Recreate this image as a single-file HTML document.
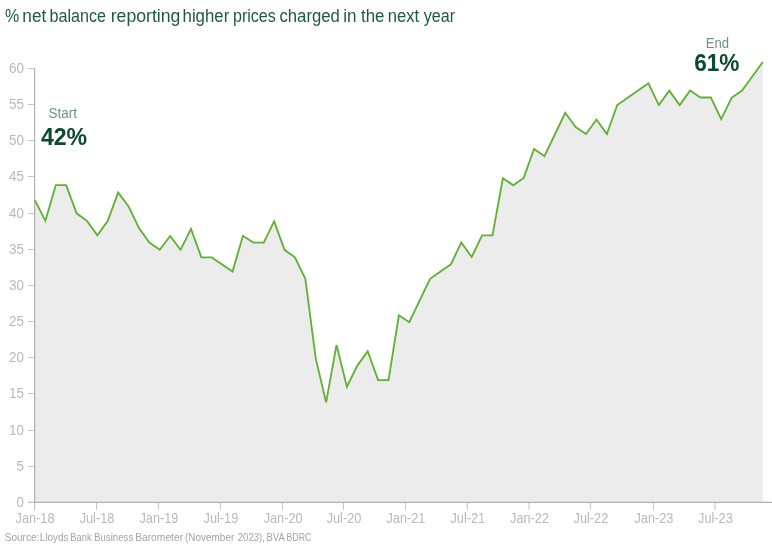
<!DOCTYPE html>
<html><head><meta charset="utf-8"><style>
html,body{margin:0;padding:0;background:#fff;}
body{width:772px;height:552px;overflow:hidden;}
svg{display:block;will-change:transform;}
text{font-family:"Liberation Sans",sans-serif;}
.ax{font-size:14px;fill:#b9b9b9;}
</style></head><body>
<svg width="772" height="552" viewBox="0 0 772 552">
<g font-size="17.5" fill="#1f5a3d"><text x="4.99" y="22" textLength="14.23" lengthAdjust="spacingAndGlyphs">%</text><text x="22.32" y="22" textLength="23.91" lengthAdjust="spacingAndGlyphs">net</text><text x="49.58" y="22" textLength="56.51" lengthAdjust="spacingAndGlyphs">balance</text><text x="110.69" y="22" textLength="69.70" lengthAdjust="spacingAndGlyphs">reporting</text><text x="182.54" y="22" textLength="46.73" lengthAdjust="spacingAndGlyphs">higher</text><text x="232.98" y="22" textLength="42.85" lengthAdjust="spacingAndGlyphs">prices</text><text x="279.44" y="22" textLength="60.45" lengthAdjust="spacingAndGlyphs">charged</text><text x="343.32" y="22" textLength="13.28" lengthAdjust="spacingAndGlyphs">in</text><text x="361.00" y="22" textLength="23.42" lengthAdjust="spacingAndGlyphs">the</text><text x="387.85" y="22" textLength="31.32" lengthAdjust="spacingAndGlyphs">next</text><text x="423.70" y="22" textLength="31.34" lengthAdjust="spacingAndGlyphs">year</text></g>
<path d="M35.00,502.5 L35.00,200.40 L45.40,220.86 L55.79,185.09 L66.19,185.09 L76.59,213.31 L86.99,220.86 L97.38,235.33 L107.78,220.86 L118.18,192.41 L128.57,206.38 L138.97,228.09 L149.37,242.57 L159.77,249.80 L170.16,236.03 L180.56,249.80 L190.96,228.79 L201.35,257.34 L211.75,257.44 L222.15,264.48 L232.55,271.52 L242.94,235.83 L253.34,242.57 L263.74,242.57 L274.13,221.36 L284.53,249.80 L294.93,257.34 L305.33,278.75 L315.72,358.36 L326.12,402.38 L336.52,344.90 L346.91,386.71 L357.31,365.60 L367.71,351.12 L378.11,380.07 L388.50,380.07 L398.90,315.32 L409.30,322.18 L419.69,300.46 L430.09,278.75 L440.49,271.52 L450.89,264.28 L461.28,242.57 L471.68,257.04 L482.08,235.33 L492.47,235.33 L502.87,178.23 L513.27,185.27 L523.67,177.93 L534.06,148.99 L544.46,156.22 L554.86,134.51 L565.25,112.80 L575.65,127.08 L586.05,134.01 L596.45,119.54 L606.84,134.01 L617.24,105.06 L627.64,97.83 L638.03,90.59 L648.43,83.35 L658.83,105.06 L669.23,90.59 L679.62,105.06 L690.02,90.59 L700.42,97.46 L710.81,97.46 L721.21,119.04 L731.61,97.83 L742.01,90.59 L752.40,76.33 L762.80,62.07 L762.80,502.5 Z" fill="#ececec"/>
<line x1="34.6" y1="68" x2="34.6" y2="510" stroke="#b1b1b1" stroke-width="1.2"/>
<line x1="28" y1="502.4" x2="772" y2="502.4" stroke="#b1b1b1" stroke-width="1.2"/>
<line x1="28" y1="502.5" x2="34" y2="502.5" stroke="#c6c6c6" stroke-width="1"/>
<text transform="translate(24,507.3) scale(0.96,1)" text-anchor="end" class="ax">0</text>
<line x1="28" y1="466.5" x2="34" y2="466.5" stroke="#c6c6c6" stroke-width="1"/>
<text transform="translate(24,471.3) scale(0.96,1)" text-anchor="end" class="ax">5</text>
<line x1="28" y1="430.5" x2="34" y2="430.5" stroke="#c6c6c6" stroke-width="1"/>
<text transform="translate(24,435.3) scale(0.96,1)" text-anchor="end" class="ax">10</text>
<line x1="28" y1="393.5" x2="34" y2="393.5" stroke="#c6c6c6" stroke-width="1"/>
<text transform="translate(24,398.3) scale(0.96,1)" text-anchor="end" class="ax">15</text>
<line x1="28" y1="357.5" x2="34" y2="357.5" stroke="#c6c6c6" stroke-width="1"/>
<text transform="translate(24,362.3) scale(0.96,1)" text-anchor="end" class="ax">20</text>
<line x1="28" y1="321.5" x2="34" y2="321.5" stroke="#c6c6c6" stroke-width="1"/>
<text transform="translate(24,326.3) scale(0.96,1)" text-anchor="end" class="ax">25</text>
<line x1="28" y1="285.5" x2="34" y2="285.5" stroke="#c6c6c6" stroke-width="1"/>
<text transform="translate(24,290.3) scale(0.96,1)" text-anchor="end" class="ax">30</text>
<line x1="28" y1="249.5" x2="34" y2="249.5" stroke="#c6c6c6" stroke-width="1"/>
<text transform="translate(24,254.3) scale(0.96,1)" text-anchor="end" class="ax">35</text>
<line x1="28" y1="213.5" x2="34" y2="213.5" stroke="#c6c6c6" stroke-width="1"/>
<text transform="translate(24,218.3) scale(0.96,1)" text-anchor="end" class="ax">40</text>
<line x1="28" y1="176.5" x2="34" y2="176.5" stroke="#c6c6c6" stroke-width="1"/>
<text transform="translate(24,181.3) scale(0.96,1)" text-anchor="end" class="ax">45</text>
<line x1="28" y1="140.5" x2="34" y2="140.5" stroke="#c6c6c6" stroke-width="1"/>
<text transform="translate(24,145.3) scale(0.96,1)" text-anchor="end" class="ax">50</text>
<line x1="28" y1="104.5" x2="34" y2="104.5" stroke="#c6c6c6" stroke-width="1"/>
<text transform="translate(24,109.3) scale(0.96,1)" text-anchor="end" class="ax">55</text>
<line x1="28" y1="68.5" x2="34" y2="68.5" stroke="#c6c6c6" stroke-width="1"/>
<text transform="translate(24,73.3) scale(0.96,1)" text-anchor="end" class="ax">60</text>

<line x1="34.5" y1="503" x2="34.5" y2="510" stroke="#c6c6c6" stroke-width="1"/>
<text transform="translate(35.0,523) scale(0.91,1)" text-anchor="middle" class="ax">Jan-18</text>
<line x1="96.5" y1="503" x2="96.5" y2="510" stroke="#c6c6c6" stroke-width="1"/>
<text transform="translate(97.0,523) scale(0.91,1)" text-anchor="middle" class="ax">Jul-18</text>
<line x1="158.4" y1="503" x2="158.4" y2="510" stroke="#c6c6c6" stroke-width="1"/>
<text transform="translate(158.9,523) scale(0.91,1)" text-anchor="middle" class="ax">Jan-19</text>
<line x1="220.4" y1="503" x2="220.4" y2="510" stroke="#c6c6c6" stroke-width="1"/>
<text transform="translate(220.9,523) scale(0.91,1)" text-anchor="middle" class="ax">Jul-19</text>
<line x1="282.6" y1="503" x2="282.6" y2="510" stroke="#c6c6c6" stroke-width="1"/>
<text transform="translate(283.1,523) scale(0.91,1)" text-anchor="middle" class="ax">Jan-20</text>
<line x1="343.5" y1="503" x2="343.5" y2="510" stroke="#c6c6c6" stroke-width="1"/>
<text transform="translate(344.0,523) scale(0.91,1)" text-anchor="middle" class="ax">Jul-20</text>
<line x1="405.4" y1="503" x2="405.4" y2="510" stroke="#c6c6c6" stroke-width="1"/>
<text transform="translate(405.9,523) scale(0.91,1)" text-anchor="middle" class="ax">Jan-21</text>
<line x1="467.3" y1="503" x2="467.3" y2="510" stroke="#c6c6c6" stroke-width="1"/>
<text transform="translate(467.8,523) scale(0.91,1)" text-anchor="middle" class="ax">Jul-21</text>
<line x1="529.0" y1="503" x2="529.0" y2="510" stroke="#c6c6c6" stroke-width="1"/>
<text transform="translate(529.5,523) scale(0.91,1)" text-anchor="middle" class="ax">Jan-22</text>
<line x1="590.4" y1="503" x2="590.4" y2="510" stroke="#c6c6c6" stroke-width="1"/>
<text transform="translate(590.9,523) scale(0.91,1)" text-anchor="middle" class="ax">Jul-22</text>
<line x1="653.4" y1="503" x2="653.4" y2="510" stroke="#c6c6c6" stroke-width="1"/>
<text transform="translate(653.9,523) scale(0.91,1)" text-anchor="middle" class="ax">Jan-23</text>
<line x1="714.9" y1="503" x2="714.9" y2="510" stroke="#c6c6c6" stroke-width="1"/>
<text transform="translate(715.4,523) scale(0.91,1)" text-anchor="middle" class="ax">Jul-23</text>

<polyline points="35.00,200.40 45.40,220.86 55.79,185.09 66.19,185.09 76.59,213.31 86.99,220.86 97.38,235.33 107.78,220.86 118.18,192.41 128.57,206.38 138.97,228.09 149.37,242.57 159.77,249.80 170.16,236.03 180.56,249.80 190.96,228.79 201.35,257.34 211.75,257.44 222.15,264.48 232.55,271.52 242.94,235.83 253.34,242.57 263.74,242.57 274.13,221.36 284.53,249.80 294.93,257.34 305.33,278.75 315.72,358.36 326.12,402.38 336.52,344.90 346.91,386.71 357.31,365.60 367.71,351.12 378.11,380.07 388.50,380.07 398.90,315.32 409.30,322.18 419.69,300.46 430.09,278.75 440.49,271.52 450.89,264.28 461.28,242.57 471.68,257.04 482.08,235.33 492.47,235.33 502.87,178.23 513.27,185.27 523.67,177.93 534.06,148.99 544.46,156.22 554.86,134.51 565.25,112.80 575.65,127.08 586.05,134.01 596.45,119.54 606.84,134.01 617.24,105.06 627.64,97.83 638.03,90.59 648.43,83.35 658.83,105.06 669.23,90.59 679.62,105.06 690.02,90.59 700.42,97.46 710.81,97.46 721.21,119.04 731.61,97.83 742.01,90.59 752.40,76.33 762.80,62.07" fill="none" stroke="#62b034" stroke-width="1.85" stroke-linejoin="miter"/>
<text x="48.54" y="118" font-size="14" fill="#71907f" textLength="28.46" lengthAdjust="spacingAndGlyphs">Start</text>
<text x="40.9" y="145" font-size="23" font-weight="bold" fill="#0b4a2d" textLength="46.25" lengthAdjust="spacingAndGlyphs">42%</text>
<text x="705.87" y="48" font-size="14" fill="#71907f" textLength="23.3" lengthAdjust="spacingAndGlyphs">End</text>
<text x="694.22" y="71.2" font-size="23" font-weight="bold" fill="#0b4a2d" textLength="45.23" lengthAdjust="spacingAndGlyphs">61%</text>
<g font-size="10.8" fill="#a3a3a3"><text x="4.77" y="541.3" textLength="34.56" lengthAdjust="spacingAndGlyphs">Source:</text><text x="39.67" y="541.3" textLength="28.93" lengthAdjust="spacingAndGlyphs">Lloyds</text><text x="70.34" y="541.3" textLength="21.23" lengthAdjust="spacingAndGlyphs">Bank</text><text x="93.90" y="541.3" textLength="39.43" lengthAdjust="spacingAndGlyphs">Business</text><text x="135.15" y="541.3" textLength="47.94" lengthAdjust="spacingAndGlyphs">Barometer</text><text x="184.98" y="541.3" textLength="49.30" lengthAdjust="spacingAndGlyphs">(November</text><text x="237.80" y="541.3" textLength="27.05" lengthAdjust="spacingAndGlyphs">2023),</text><text x="266.52" y="541.3" textLength="18.21" lengthAdjust="spacingAndGlyphs">BVA</text><text x="286.38" y="541.3" textLength="25.00" lengthAdjust="spacingAndGlyphs">BDRC</text></g>
</svg>
</body></html>
